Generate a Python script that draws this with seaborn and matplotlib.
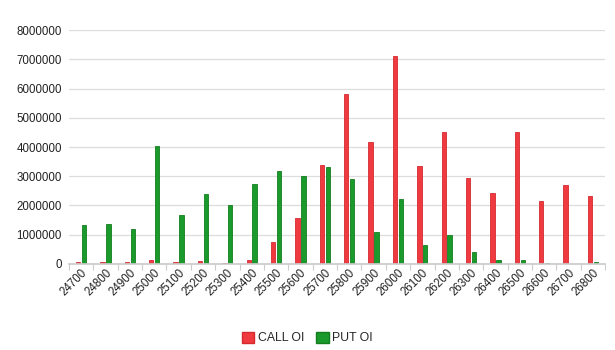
import matplotlib
matplotlib.use("Agg")
import matplotlib.pyplot as plt
import seaborn as sns
import pandas as pd
import numpy as np
from matplotlib.patches import Patch
from matplotlib.ticker import FixedLocator

strikes = ["24700", "24800", "24900", "25000", "25100", "25200", "25300", "25400",
           "25500", "25600", "25700", "25800", "25900", "26000", "26100", "26200",
           "26300", "26400", "26500", "26600", "26700", "26800"]
call_oi = [80000, 70000, 70000, 150000, 50000, 90000, 30000, 150000,
           740000, 1560000, 3380000, 5800000, 4180000, 7120000, 3360000, 4500000,
           2930000, 2420000, 4520000, 2150000, 2690000, 2340000]
put_oi = [1330000, 1370000, 1190000, 4030000, 1680000, 2390000, 2020000, 2730000,
          3180000, 3010000, 3320000, 2900000, 1090000, 2210000, 650000, 990000,
          410000, 140000, 140000, 30000, 5000, 60000]
series = ["CALL OI", "PUT OI"]
colors = {"CALL OI": "#ef3b40", "PUT OI": "#1a9a2a"}
edges = {"CALL OI": "#d42a30", "PUT OI": "#147d20"}

df = pd.DataFrame({
    "strike": strikes * 2,
    "series": [series[0]] * len(strikes) + [series[1]] * len(strikes),
    "oi": call_oi + put_oi,
})

sns.set_theme(style="white")
plt.rcParams["font.family"] = ["Liberation Sans", "DejaVu Sans"]

fig = plt.figure(figsize=(6.15, 3.5), dpi=100)
ax = fig.add_axes([0.112, 0.246, 0.872, 0.668])
sns.barplot(data=df, x="strike", y="oi", hue="series", order=strikes,
            hue_order=series, palette=colors, width=0.48, gap=0.25,
            legend=False, ax=ax, saturation=1)
for i, p in enumerate(ax.patches):
    s = series[0] if i < len(strikes) else series[1]
    p.set_edgecolor(edges[s])
    p.set_linewidth(0.6)

ax.set_ylim(0, 8000000)
ax.set_xlim(-0.5, len(strikes) - 0.5)
ax.set_yticks(np.arange(0, 8000001, 1000000))
ax.set_yticklabels([f"{int(v)}" for v in np.arange(0, 8000001, 1000000)], fontsize=8.3, color="#222222")
ax.yaxis.grid(True, color="#dddddd", linewidth=0.9)
ax.set_axisbelow(True)
for side in ["top", "right", "left"]:
    ax.spines[side].set_visible(False)
ax.spines["bottom"].set_color("#cccccc")
ax.set_xlabel("")
ax.set_ylabel("")
ax.tick_params(axis="y", length=0, pad=5)
ax.tick_params(axis="x", length=0, pad=2)
ax.set_xticks(range(len(strikes)))
ax.set_xticklabels(strikes, rotation=45, ha="right", rotation_mode="anchor",
                   fontsize=8.3, color="#222222")
ax.xaxis.set_minor_locator(FixedLocator(np.arange(-0.5, len(strikes), 1.0)))
ax.tick_params(axis="x", which="minor", length=4, color="#cccccc", width=0.8, bottom=True)

handles = [Patch(facecolor=colors[s], edgecolor=edges[s], label=s) for s in series]
fig.legend(handles=handles, loc="center", bbox_to_anchor=(0.5, 0.034), ncol=2,
           frameon=False, fontsize=8.8, handlelength=1.0, handleheight=1.0,
           handletextpad=0.3, columnspacing=1.0)

fig.savefig("out.png", dpi=100, facecolor="white")
